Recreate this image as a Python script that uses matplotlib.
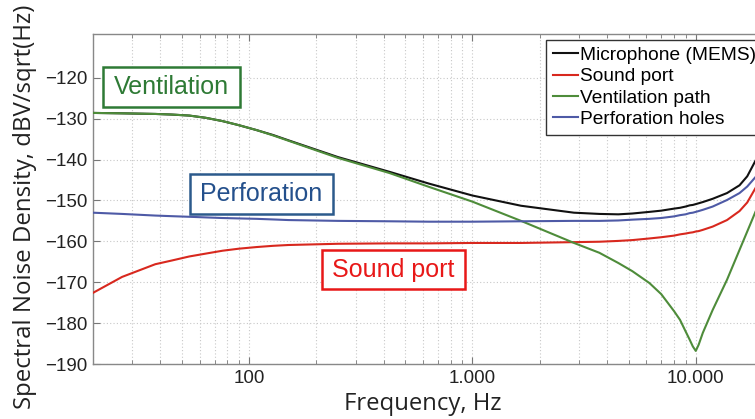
import matplotlib
matplotlib.use("Agg")
import matplotlib.pyplot as plt
from matplotlib.patches import Rectangle
from matplotlib.ticker import LogLocator, NullFormatter, FixedLocator, FixedFormatter

W, H = 755, 419

freq = [20, 27, 38, 45, 54, 64, 76, 90, 108, 128, 150, 250, 425, 640, 1000, 1650, 2850,
        3700, 4500, 5200, 6200, 7000, 8000, 8500, 9000, 9400, 9700, 10000, 10300, 10750,
        11900, 13800, 15700, 17000, 18500]

microphone = [-128.6, -128.7, -128.85, -129.0, -129.25, -129.8, -130.6, -131.6, -132.8,
              -134.0, -135.3, -139.4, -143.0, -145.9, -148.8, -151.3, -153.0, -153.3,
              -153.4, -153.2, -152.8, -152.5, -152.0, -151.8, -151.5, -151.2, -151.1,
              -150.9, -150.7, -150.4, -149.6, -148.2, -146.3, -144.1, -140.3]
sound_port = [-172.6, -168.7, -165.6, -164.7, -163.7, -163.0, -162.3, -161.8, -161.4,
              -161.1, -160.9, -160.6, -160.5, -160.5, -160.4, -160.4, -160.2, -160.1,
              -159.9, -159.7, -159.3, -159.0, -158.6, -158.3, -158.1, -157.9, -157.8,
              -157.6, -157.5, -157.2, -156.4, -154.8, -152.6, -150.5, -147.0]
ventilation = [-128.6, -128.7, -128.85, -129.0, -129.25, -129.8, -130.6, -131.6, -132.8,
               -134.1, -135.4, -139.6, -143.3, -146.7, -150.3, -155.0, -160.4, -162.8,
               -165.3, -167.3, -170.2, -172.9, -177.1, -179.2, -182.0, -184.1, -185.7,
               -186.8, -185.3, -182.4, -176.8, -169.4, -162.1, -157.6, -152.8]
perforation = [-153.0, -153.3, -153.7, -153.85, -154.0, -154.15, -154.3, -154.4, -154.5,
               -154.65, -154.8, -155.0, -155.1, -155.2, -155.2, -155.1, -155.0, -155.0,
               -154.9, -154.7, -154.5, -154.3, -153.9, -153.6, -153.4, -153.1, -153.0,
               -152.8, -152.6, -152.3, -151.5, -149.9, -148.2, -146.6, -144.3]

series_labels = ["Microphone (MEMS)", "Sound port", "Ventilation path", "Perforation holes"]
series_colors = ["#111111", "#d8281e", "#4e8c3a", "#4e5aa6"]

ytick_vals = [-190, -180, -170, -160, -150, -140, -130, -120]
ytick_labels = ["\u2212190", "\u2212180", "\u2212170", "\u2212160", "\u2212150", "\u2212140", "\u2212130", "\u2212120"]
xtick_vals = [100, 1000, 10000]
xtick_labels = ["100", "1.000", "10.000"]

plt.rcParams["font.family"] = ["Liberation Sans", "DejaVu Sans"]

fig = plt.figure(figsize=(W / 100, H / 100), dpi=100)
fig.patch.set_facecolor("white")
ax = fig.add_axes([93 / W, 1 - 364 / H, (763 - 93) / W, (364 - 34) / H])

for vals, lab, col in zip([microphone, sound_port, ventilation, perforation], series_labels, series_colors):
    ax.plot(freq, vals, color=col, lw=1.5, label=lab, zorder=3)

ax.set_xscale("log")
ax.set_xlim(20, 20000)
ax.set_ylim(-190, -109.3)
ax.xaxis.set_major_locator(FixedLocator(xtick_vals))
ax.xaxis.set_major_formatter(FixedFormatter(xtick_labels))
ax.xaxis.set_minor_locator(LogLocator(base=10, subs=range(2, 10)))
ax.xaxis.set_minor_formatter(NullFormatter())
ax.yaxis.set_major_locator(FixedLocator(ytick_vals))
ax.yaxis.set_major_formatter(FixedFormatter(ytick_labels))

ax.grid(True, which="both", axis="x", color="#c8c8c8", ls=(0, (1, 2)), lw=0.8)
ax.grid(True, which="major", axis="y", color="#c8c8c8", ls=(0, (1, 2)), lw=0.8)
ax.tick_params(direction="in", which="both", top=True, right=False, colors="#777777",
               labelcolor="#222222", labelsize=13.5)
ax.tick_params(which="major", length=5, pad=4)
ax.tick_params(which="minor", length=3)
for s in ax.spines.values():
    s.set_color("#888888")
    s.set_linewidth(1.0)

leg = ax.legend(loc="upper left", bbox_to_anchor=(546 / W, 1 - 40 / H), bbox_transform=fig.transFigure,
                fontsize=13.8, frameon=True, fancybox=False, handlelength=1.3, handletextpad=0.12,
                labelspacing=0.2, borderpad=0.35, borderaxespad=0)
leg.get_frame().set_edgecolor("#333333")
leg.get_frame().set_linewidth(1.0)
leg.get_frame().set_alpha(1)

fig.text(25 / W, 1 - 207 / H, "Spectral Noise Density, dBV/sqrt(Hz)", rotation=90,
         ha="center", va="center", fontsize=17.3, family=["Open Sans", "DejaVu Sans"], color="#222222")
fig.text(423 / W, 1 - 404 / H, "Frequency, Hz", ha="center", va="center", fontsize=17.2,
         family=["Open Sans", "DejaVu Sans"], color="#222222")

boxes = [
    ("Ventilation", 103, 67, 240, 107, "#2e7a35", "#2e7a35"),
    ("Perforation", 190, 174, 333, 214, "#24508c", "#2c5a8c"),
    ("Sound port", 322, 250, 465, 289, "#e81818", "#e81818"),
]
for txt, x0, y0, x1, y1, tcol, ecol in boxes:
    fig.add_artist(Rectangle((x0 / W, 1 - y1 / H), (x1 - x0) / W, (y1 - y0) / H,
                             transform=fig.transFigure, facecolor="white", edgecolor=ecol,
                             lw=1.8, zorder=5))
    fig.text((x0 + x1) / 2 / W, 1 - (y0 + y1) / 2 / H, txt, ha="center", va="center",
             fontsize=18, color=tcol, zorder=6)

fig.savefig("out.png", dpi=100)
